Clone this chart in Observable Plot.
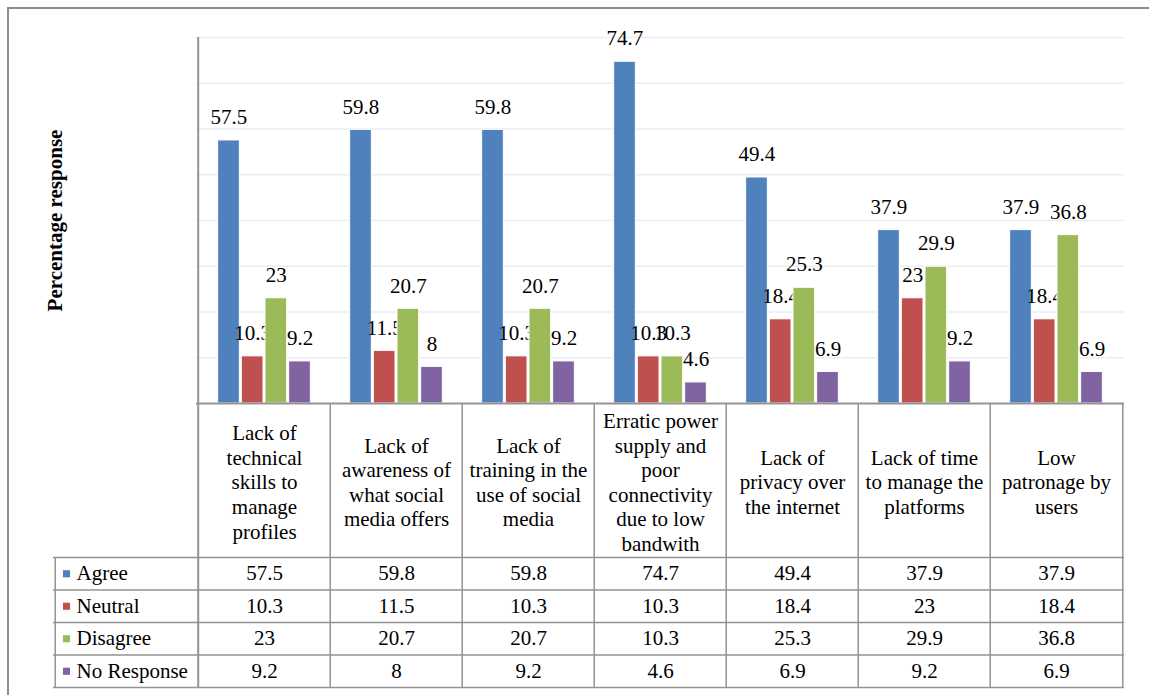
<!DOCTYPE html>
<html><head><meta charset="utf-8">
<script src="https://cdn.jsdelivr.net/npm/d3@7"></script>
<script src="https://cdn.jsdelivr.net/npm/@observablehq/plot@0.6"></script>
<style>
html,body{margin:0;padding:0;background:#fff;overflow:hidden;}
#wrap{position:relative;width:1149px;height:695px;overflow:hidden;}
#chart{position:absolute;left:0;top:0;}
#chart svg, #chart svg text{font-family:"Liberation Serif","Times New Roman",serif !important;}
#border{position:absolute;left:7px;top:7px;width:1200px;height:800px;border-top:2px solid #8c8c8c;border-left:2px solid #8c8c8c;pointer-events:none;}
</style></head><body>
<div id="wrap"><div id="chart"></div><div id="border"></div></div>
<script>
// ---- data ----
const categories = [
  "Lack of\ntechnical\nskills to\nmanage\nprofiles",
  "Lack of\nawareness of\nwhat social\nmedia offers",
  "Lack of\ntraining in the\nuse of social\nmedia",
  "Erratic power\nsupply and\npoor\nconnectivity\ndue to low\nbandwith",
  "Lack of\nprivacy over\nthe internet",
  "Lack of time\nto manage the\nplatforms",
  "Low\npatronage by\nusers"
];
const seriesNames = ["Agree", "Neutral", "Disagree", "No Response"];
const seriesColors = ["#4F81BD", "#C0504D", "#9BBB59", "#8064A2"];
const agree = [57.5, 59.8, 59.8, 74.7, 49.4, 37.9, 37.9];
const neutral = [10.3, 11.5, 10.3, 10.3, 18.4, 23, 18.4];
const disagree = [23, 20.7, 20.7, 10.3, 25.3, 29.9, 36.8];
const noResponse = [9.2, 8, 9.2, 4.6, 6.9, 9.2, 6.9];
const yTicks = [10, 20, 30, 40, 50, 60, 70, 80];
const yAxisTitle = "Percentage response";

const rows = [];
[agree, neutral, disagree, noResponse].forEach((vals, j) =>
  vals.forEach((v, i) => rows.push({category: categories[i], series: seriesNames[j], value: v})));

// ---- layout ----
const W = 1149, H = 695, ML = 196, MR = 25, MT = 37, MB = 292;
const frameH = H - MT - MB;
const bw = (W - ML - MR) / categories.length;
const inner = d3.scaleBand(seriesNames, [0, bw]).paddingInner(0.06).paddingOuter(0.83);
const headerH = 154, rowH = 32.5, labelColW = 143;
const FS = 21;
const FF = "'Liberation Serif','Times New Roman',serif";
const gridStroke = "#e9edf5", lineStroke = "#939393";

const marks = [];
marks.push(Plot.ruleY(yTicks, {stroke: gridStroke, strokeWidth: 1.5}));

seriesNames.forEach(s => {
  const d = rows.filter(r => r.series === s);
  const left = inner(s), right = bw - inner(s) - inner.bandwidth();
  const cx = inner(s) + inner.bandwidth() / 2 - bw / 2;
  marks.push(Plot.barY(d, {x: "category", y: "value", fill: "series", stroke: "white", strokeWidth: 1, insetLeft: left, insetRight: right}));
  marks.push(Plot.text(d, {x: "category", y: "value", text: r => String(r.value), dx: cx, dy: -23, lineAnchor: "middle", fontSize: FS, fontFamily: FF}));
});

// axis + table lines
marks.push(Plot.ruleY([0], {stroke: lineStroke, strokeWidth: 2}));
marks.push(Plot.ruleX([categories[0]], {x: d => d, dx: -bw / 2, stroke: lineStroke, strokeWidth: 2, insetBottom: -(headerH + 4 * rowH)}));
marks.push(Plot.ruleX(categories.slice(1), {x: d => d, dx: -bw / 2, stroke: lineStroke, strokeWidth: 1.5, insetTop: frameH, insetBottom: -(headerH + 4 * rowH)}));
marks.push(Plot.ruleX([categories[categories.length - 1]], {x: d => d, dx: bw / 2, stroke: lineStroke, strokeWidth: 1.5, insetTop: frameH, insetBottom: -(headerH + 4 * rowH)}));
marks.push(Plot.ruleX([categories[0]], {x: d => d, dx: -bw / 2 - labelColW, stroke: lineStroke, strokeWidth: 1.5, insetTop: frameH + headerH, insetBottom: -(headerH + 4 * rowH)}));
for (let k = 0; k <= 4; k++) {
  marks.push(Plot.ruleY([0], {dy: headerH + k * rowH, insetLeft: -labelColW, stroke: lineStroke, strokeWidth: 1.5}));
}

// header labels
marks.push(Plot.text(categories, {x: d => d, text: d => d, frameAnchor: "bottom", lineAnchor: "middle", dy: headerH / 2 + 1, lineHeight: 1.17, fontSize: FS, fontFamily: FF}));

// table rows
seriesNames.forEach((s, j) => {
  const d = rows.filter(r => r.series === s);
  const dy = headerH + rowH * (j + 0.5);
  marks.push(Plot.text(d, {x: "category", text: r => String(r.value), frameAnchor: "bottom", lineAnchor: "middle", dy, fontSize: FS, fontFamily: FF}));
  marks.push(Plot.dot([s], {frameAnchor: "bottom-left", dx: -130, dy, symbol: "square", r: 4, fill: d => d}));
  marks.push(Plot.text([s], {frameAnchor: "bottom-left", dx: -120, dy, text: d => d, textAnchor: "start", lineAnchor: "middle", fontSize: FS, fontFamily: FF}));
});

// y axis title
marks.push(Plot.text([yAxisTitle], {frameAnchor: "left", dx: -141, rotate: -90, text: d => d, textAnchor: "middle", lineAnchor: "middle", fontWeight: "bold", fontSize: FS, fontFamily: FF}));

const chart = Plot.plot({
  width: W, height: H,
  marginLeft: ML, marginRight: MR, marginTop: MT, marginBottom: MB,
  style: {fontFamily: FF, fontSize: "21px", background: "transparent"},
  x: {type: "band", domain: categories, padding: 0, axis: null},
  y: {domain: [0, 80], axis: null},
  color: {domain: seriesNames, range: seriesColors},
  marks
});
document.getElementById("chart").appendChild(chart);
</script>
</body></html>
